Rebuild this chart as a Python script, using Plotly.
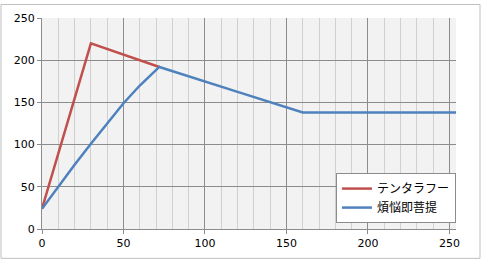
import plotly.graph_objects as go

# Data
red_name = "テンタラフー"
red_x = [0, 30, 72]
red_y = [24, 220, 192]

blue_name = "煩悩即菩提"
blue_x = [0, 10, 20, 30, 40, 50, 60, 66, 72, 120, 160, 254]
blue_y = [24, 50.5, 76, 101, 125.5, 149, 170, 181, 192, 162.5, 138, 138]

x_ticks = [0, 50, 100, 150, 200, 250]
y_ticks = [0, 50, 100, 150, 200, 250]

fig = go.Figure()
fig.add_trace(go.Scatter(x=red_x, y=red_y, mode="lines", name=red_name,
                         line=dict(color="#c0504d", width=2.5)))
fig.add_trace(go.Scatter(x=blue_x, y=blue_y, mode="lines", name=blue_name,
                         line=dict(color="#4f81bd", width=2.5)))

fig.update_layout(
    width=482, height=262,
    margin=dict(l=42, r=26, t=15, b=32),
    paper_bgcolor="white",
    plot_bgcolor="#f2f2f2",
    font=dict(family="DejaVu Sans", size=11, color="black"),
    legend=dict(x=0.71, y=0.265, xanchor="left", yanchor="top",
                bgcolor="white", bordercolor="#8c8c8c", borderwidth=1,
                font=dict(family="Noto Sans CJK JP", size=12),
                tracegroupgap=0, itemwidth=30),
    shapes=[dict(type="rect", xref="paper", yref="paper",
                 x0=-0.099, x1=1.058, y0=-0.139, y1=1.064,
                 line=dict(color="#bfbfbf", width=1))],
)
fig.update_xaxes(range=[0, 254], tickvals=x_ticks, showgrid=True,
                 gridcolor="#8c8c8c", gridwidth=1,
                 minor=dict(dtick=10, showgrid=True, gridcolor="#d0d0d0", gridwidth=1),
                 showline=True, linecolor="#8c8c8c", ticks="outside",
                 ticklen=4, tickcolor="#8c8c8c", zeroline=False)
fig.update_yaxes(range=[0, 250], tickvals=y_ticks, showgrid=True,
                 gridcolor="#8c8c8c", gridwidth=1,
                 showline=True, linecolor="#8c8c8c", ticks="outside",
                 ticklen=4, tickcolor="#8c8c8c", zeroline=False)

fig.write_html("out.html")
